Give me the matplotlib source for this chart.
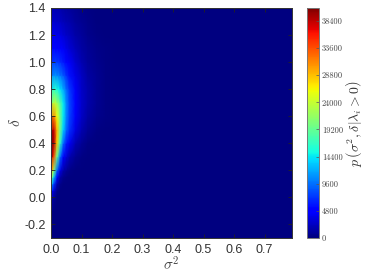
import matplotlib
matplotlib.use("Agg")
import matplotlib.pyplot as plt
import numpy as np

plt.rcParams['mathtext.fontset'] = 'cm'
plt.rcParams['font.family'] = ['Liberation Sans', 'DejaVu Sans']

sigma2 = [0, .005, .01, .02, .03, .04, .05, .06, .08, .10, .12, .15, .18, .22, .79]
delta = [-0.3, -0.1, 0.0, 0.05, 0.1, 0.15, 0.2, 0.3, 0.4, 0.5, 0.6, 0.7, 0.8, 0.9, 1.0, 1.1, 1.2, 1.3, 1.4]
density = [
    [0, 0, 0, 0, 0, 0, 0, 0, 0, 0, 0, 0, 0, 0, 0],
    [100, 50, 20, 0, 0, 0, 0, 0, 0, 0, 0, 0, 0, 0, 0],
    [3000, 1800, 800, 100, 30, 0, 0, 0, 0, 0, 0, 0, 0, 0, 0],
    [8000, 5000, 2800, 500, 100, 30, 0, 0, 0, 0, 0, 0, 0, 0, 0],
    [15000, 11000, 7000, 1800, 500, 150, 50, 20, 0, 0, 0, 0, 0, 0, 0],
    [22000, 18000, 12500, 4500, 1500, 600, 200, 80, 20, 0, 0, 0, 0, 0, 0],
    [30000, 27000, 20000, 9000, 3800, 1700, 800, 400, 100, 30, 0, 0, 0, 0, 0],
    [37000, 38000, 33000, 19000, 9500, 5200, 3200, 1900, 650, 200, 60, 15, 0, 0, 0],
    [38000, 40500, 39000, 28000, 16500, 9500, 6200, 4200, 1800, 800, 300, 80, 15, 0, 0],
    [33000, 39000, 38000, 29000, 20000, 13500, 9500, 7000, 3600, 1900, 900, 300, 70, 10, 0],
    [25000, 31000, 31000, 26000, 20000, 14500, 10500, 7800, 4400, 2600, 1400, 550, 170, 25, 0],
    [18000, 22500, 24000, 22000, 18500, 14500, 10800, 8000, 4600, 2800, 1600, 650, 220, 40, 0],
    [12500, 15000, 16500, 15500, 14000, 12000, 9500, 7400, 4400, 2700, 1600, 700, 250, 50, 0],
    [9000, 10500, 11000, 10800, 10000, 8800, 7300, 5800, 3700, 2400, 1400, 650, 250, 50, 0],
    [6500, 7300, 7600, 7400, 6900, 6100, 5300, 4400, 2900, 1900, 1100, 550, 220, 40, 0],
    [4500, 5200, 5400, 5200, 4800, 4300, 3700, 3100, 2100, 1400, 850, 400, 160, 30, 0],
    [3300, 3900, 4000, 3800, 3500, 3100, 2700, 2300, 1500, 1000, 600, 250, 90, 15, 0],
    [2300, 2800, 2800, 2700, 2500, 2200, 1900, 1600, 1050, 650, 350, 130, 40, 5, 0],
    [1500, 1800, 1800, 1700, 1600, 1400, 1200, 1000, 650, 350, 170, 60, 15, 0, 0],
]
x_ticks = [0.0, 0.1, 0.2, 0.3, 0.4, 0.5, 0.6, 0.7]
y_ticks = [-0.2, 0.0, 0.2, 0.4, 0.6, 0.8, 1.0, 1.2, 1.4]
cbar_ticks = [0, 4800, 9600, 14400, 19200, 24000, 28800, 33600, 38400]
vmax = 40700

fig = plt.figure(figsize=(3.74, 2.80), dpi=100)
ax = fig.add_axes([51/374, 42/280, 241/374, 230/280])
mesh = ax.pcolormesh(sigma2, delta, density, shading='gouraud', cmap='jet', vmin=0, vmax=vmax, rasterized=True)
ax.set_xlim(0, 0.79)
ax.set_ylim(-0.3, 1.4)
ax.set_xticks(x_ticks)
ax.set_yticks(y_ticks)
ax.set_xticklabels([f"{t:.1f}" for t in x_ticks])
ax.set_yticklabels([f"{t:.1f}" for t in y_ticks])
ax.tick_params(labelsize=9, length=3, width=0.6, direction='in', color='#222222', pad=4,
               labelcolor='#333333', top=True, right=True)
for s in ax.spines.values():
    s.set_linewidth(0.7)
    s.set_color('#333333')
ax.set_xlabel(r"$\sigma^2$", fontsize=11, color='#444444', labelpad=0)
ax.set_ylabel(r"$\delta$", fontsize=11, color='#444444', labelpad=1)

cax = fig.add_axes([307/374, 42/280, 12/374, 230/280])
cb = fig.colorbar(mesh, cax=cax, ticks=cbar_ticks)
cb.ax.tick_params(labelsize=6, length=2, width=0.5, direction='in', color='#555555', pad=2, labelcolor='#444444')
for lab in cb.ax.get_yticklabels():
    lab.set_family(['cmr10', 'DejaVu Serif'])
cb.outline.set_linewidth(0.7)
cb.outline.set_edgecolor('#777777')
cb.set_label(r"$p\,\left(\sigma^2,\delta|\lambda_i>0\right)$", fontsize=10, color='#333333', labelpad=1)

fig.savefig("out.png", dpi=100)
